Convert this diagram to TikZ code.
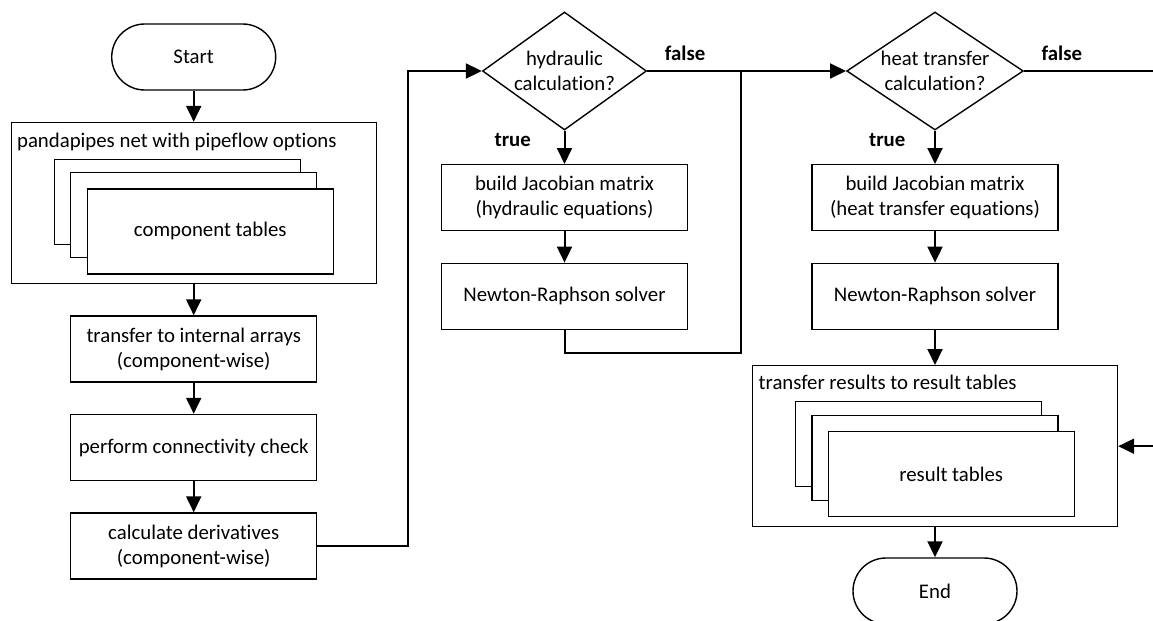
\documentclass[tikz,border=0pt]{standalone}
\usepackage{fontspec}
\setmainfont{Carlito}[Ligatures=NoCommon]
\usetikzlibrary{shapes.geometric, arrows.meta}

\begin{document}
\begin{tikzpicture}[x=0.5pt, y=-0.5pt, font=\fontsize{10.4}{12.5}\selectfont,
  box/.style={draw, line width=0.7pt, fill=white, align=center, inner sep=0pt, minimum width=123pt, minimum height=33pt},
  term/.style={draw, line width=0.7pt, rounded corners=16.5pt, minimum width=82pt, minimum height=33pt},
  frame/.style={draw, line width=0.7pt, inner sep=0pt, minimum width=182.5pt, minimum height=80.5pt},
  sheet/.style={draw, line width=0.7pt, fill=white, inner sep=0pt, minimum width=123pt, minimum height=42.5pt},
  dec/.style={draw, diamond, line width=0.7pt, inner sep=0pt, minimum height=59pt},
  flow/.style={line width=1pt, -{Triangle[length=8pt,width=7.5pt]}},
  link/.style={line width=1pt},
  tag/.style={font=\fontsize{10.4}{12.5}\selectfont\bfseries}]
\useasboundingbox (0,0) rectangle (1153,621);

\node[term] (start) at (193.7,57) {Start};
\node[frame] (net) at (193.7,203) {};
\node[anchor=west, inner sep=0pt] (nettitle) at (16.7,142) {pandapipes net with pipeflow options};
\node[sheet] (cback) at (177.3,201.7) {};
\node[sheet] (cmid) at (193.5,215) {};
\node[sheet] (comptab) at (210.3,231.3) {component tables};
\node[box] (transfer) at (193.7,349) {transfer to internal arrays\\(component-wise)};
\node[box] (connect) at (193.7,447.5) {perform connectivity check};
\node[box] (deriv) at (193.7,546) {calculate derivatives\\(component-wise)};

\node[dec, minimum width=82pt, label={[align=center]center:hydraulic\\calculation?}] (hyd) at (564.5,71) {};
\node[box] (hjac) at (564.5,197.7) {build Jacobian matrix\\(hydraulic equations)};
\node[box] (hnr) at (564.5,296.3) {Newton-Raphson solver};

\node[dec, minimum width=88.3pt, label={[align=center]center:heat transfer\\calculation?}] (heat) at (935,71) {};
\node[box] (tjac) at (935,197.7) {build Jacobian matrix\\(heat transfer equations)};
\node[box] (tnr) at (935,296.3) {Newton-Raphson solver};
\node[frame] (res) at (935,446.2) {};
\node[anchor=west, inner sep=0pt] (restitle) at (758.3,382.3) {transfer results to result tables};
\node[sheet] (rback) at (918.5,444.2) {};
\node[sheet] (rmid) at (935,457.8) {};
\node[sheet] (restab) at (951.2,474.2) {result tables};
\node[term] (end) at (935,591) {End};

\coordinate (c1) at (408,71);
\coordinate (c2) at (741.2,71);
\coordinate (c3) at (741.2,353.3);
\coordinate (tout) at (1153,71);
\coordinate (rin) at (1153,446.2);

\draw[flow] (start) -- (start |- net.north);
\draw[flow] (net) -- (transfer);
\draw[flow] (transfer) -- (connect);
\draw[flow] (connect) -- (deriv);
\draw[flow] (deriv.east) -| (c1) -- (hyd.west);
\draw[flow] (hyd.south) -- node[tag, anchor=north east, pos=0, xshift=-13pt, yshift=2.5pt]{true} (hjac);
\draw[flow] (hjac) -- (hnr);
\draw[link] (hnr.south) |- (c3) -- (c2);
\draw[flow] (hyd.east) -- node[tag, anchor=south west, pos=0, xshift=5pt, yshift=1.5pt]{false} (heat.west);
\draw[flow] (heat.south) -- node[tag, anchor=north east, pos=0, xshift=-11pt, yshift=2.5pt]{true} (tjac);
\draw[link] (heat.east) -- node[tag, anchor=south west, pos=0, xshift=5pt, yshift=1.5pt]{false} (tout);
\draw[flow] (tjac) -- (tnr);
\draw[flow] (tnr) -- (res);
\draw[flow] (rin) -- (res.east);
\draw[flow] (res) -- (end);
\end{tikzpicture}
\end{document}
